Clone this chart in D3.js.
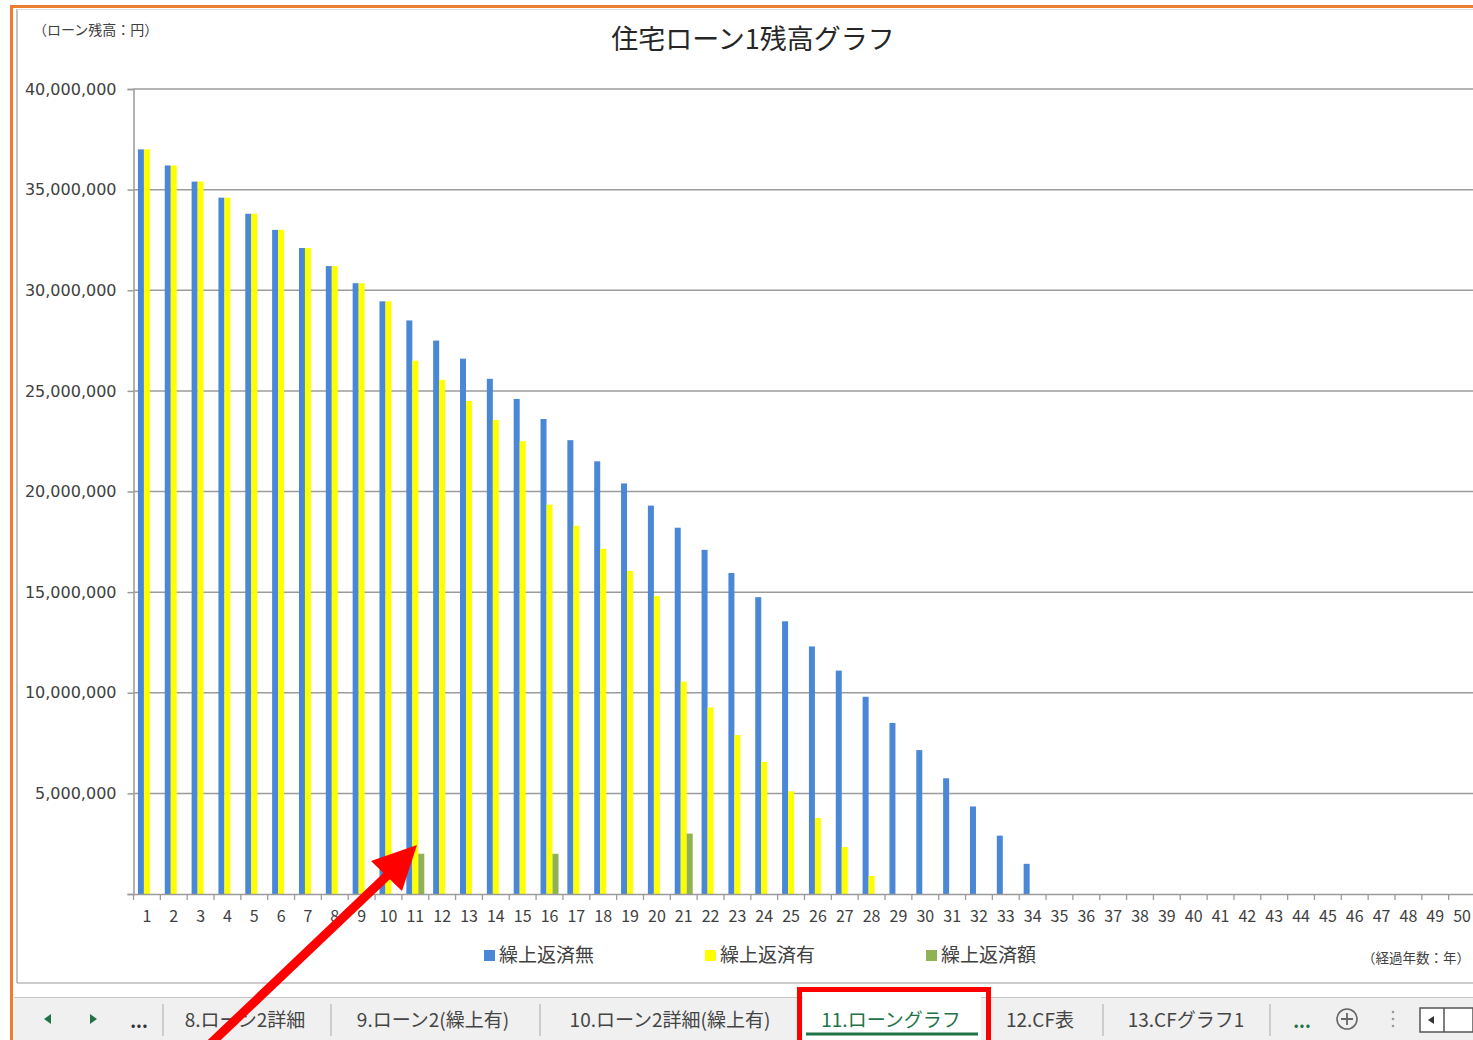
<!DOCTYPE html>
<html><head><meta charset="utf-8">
<script src="https://cdn.jsdelivr.net/npm/d3@7"></script>
<style>
html,body{margin:0;padding:0;background:#fff;}
svg{display:block;}
</style></head>
<body>
<svg id="c" width="1473" height="1040"></svg>
<script>
// ---- data ----
const years = d3.range(1, 51);
const seriesNames = ["繰上返済無", "繰上返済有", "繰上返済額"];
const noPrepay = [37.0,36.2,35.4,34.6,33.8,33.0,32.1,31.2,30.35,29.45,
  28.5,27.5,26.6,25.6,24.6,23.6,22.55,21.5,20.4,19.3,
  18.2,17.1,15.95,14.75,13.55,12.3,11.1,9.8,8.5,7.15,
  5.75,4.35,2.9,1.5].map(v => v * 1e6);
const withPrepay = [37.0,36.2,35.4,34.6,33.8,33.0,32.1,31.2,30.35,29.45,
  26.5,25.55,24.5,23.55,22.5,19.35,18.3,17.15,16.05,14.8,
  10.55,9.27,7.9,6.56,5.1,3.78,2.33,0.9].map(v => v * 1e6);
const prepayAmount = {11: 2.0e6, 16: 2.0e6, 21: 3.0e6};
const yTicks = [0, 5e6, 10e6, 15e6, 20e6, 25e6, 30e6, 35e6, 40e6];
const tabs = ["8.ローン2詳細", "9.ローン2(繰上有)", "10.ローン2詳細(繰上有)", "11.ローングラフ", "12.CF表", "13.CFグラフ1"];
const tabCenters = [245, 433, 670, 891, 1040, 1186];
const colors = ["#4a87d6", "#ffff00", "#8fb253"];

const svg = d3.select("#c");
const JP = "'Noto Sans CJK JP','Noto Sans',sans-serif";

// frame
svg.append("rect").attr("x",0).attr("y",0).attr("width",1473).attr("height",1040).attr("fill","#fff");
svg.append("line").attr("x1",17).attr("x2",17).attr("y1",9).attr("y2",983).attr("stroke","#9a9a9a").attr("stroke-width",1.2);
svg.append("line").attr("x1",17).attr("x2",1473).attr("y1",983).attr("y2",983).attr("stroke","#9a9a9a").attr("stroke-width",1.2);
svg.append("line").attr("x1",17).attr("x2",1473).attr("y1",9.5).attr("y2",9.5).attr("stroke","#dcdcdc").attr("stroke-width",1);

// plot
const plot = {left:133.5, right:1475.5, top:89, bottom:894};
const y = d3.scaleLinear().domain([0, 40e6]).range([plot.bottom, plot.top]);
const x0 = d3.scaleBand().domain(years).range([plot.left, plot.right]).paddingInner(0.33).paddingOuter(0.165);
const x1 = d3.scaleBand().domain([0,1,2]).range([0, x0.bandwidth()]);

// gridlines
svg.append("g").selectAll("line").data(yTicks.filter(d=>d>0)).join("line")
  .attr("x1", plot.left).attr("x2", plot.right)
  .attr("y1", d=>y(d)).attr("y2", d=>y(d))
  .attr("stroke","#9b9b9b").attr("stroke-width",1.5);

// bars
const rows = years.map(yr => ({
  yr,
  vals: [noPrepay[yr-1] || 0, withPrepay[yr-1] || 0, prepayAmount[yr] || 0]
}));
const g = svg.append("g");
rows.forEach(r => {
  r.vals.forEach((v, i) => {
    if (v <= 0) return;
    g.append("rect")
      .attr("x", x0(r.yr) + x1(i))
      .attr("y", y(v))
      .attr("width", x1.bandwidth())
      .attr("height", y(0) - y(v))
      .attr("fill", colors[i]);
  });
});

// y axis
const yAxis = d3.axisLeft(y).tickValues(yTicks).tickSize(6).tickPadding(11)
  .tickFormat(d => d === 0 ? "" : d3.format(",")(d));
const ya = svg.append("g").attr("transform", `translate(${plot.left},0)`).call(yAxis);
ya.select(".domain").attr("stroke","#9b9b9b").attr("stroke-width",1.5);
ya.selectAll(".tick line").attr("stroke","#9b9b9b").attr("stroke-width",1.5);
ya.selectAll(".tick text").attr("font-family","'DejaVu Sans',sans-serif").attr("font-size","16px").attr("fill","#404040");

// x axis
const xa = svg.append("g").attr("transform", `translate(0,${plot.bottom})`)
  .call(d3.axisBottom(x0).tickSize(0).tickPadding(17));
xa.select(".domain").attr("stroke","#9b9b9b").attr("stroke-width",1.5);
xa.selectAll(".tick text").attr("font-family",JP).attr("font-size","16px").attr("fill","#404040");
// boundary tick marks
const step = x0.step();
svg.append("g").selectAll("line").data(d3.range(0, 51)).join("line")
  .attr("x1", d => plot.left + d*step).attr("x2", d => plot.left + d*step)
  .attr("y1", plot.bottom).attr("y2", plot.bottom + 6)
  .attr("stroke","#9b9b9b").attr("stroke-width",1.3);

// title & labels
svg.append("text").attr("x",753).attr("y",49).attr("text-anchor","middle")
  .attr("font-family",JP).attr("font-size","27px").attr("fill","#262626").text("住宅ローン1残高グラフ");
svg.append("text").attr("x",33).attr("y",35)
  .attr("font-family",JP).attr("font-size","14px").attr("fill","#404040").text("（ローン残高：円）");
svg.append("text").attr("x",1470).attr("y",963).attr("text-anchor","end")
  .attr("font-family",JP).attr("font-size","13.5px").attr("fill","#404040").text("（経過年数：年）");

// legend
const legX = [484, 705, 926];
seriesNames.forEach((n, i) => {
  svg.append("rect").attr("x", legX[i]).attr("y", 950).attr("width", 11).attr("height", 11).attr("fill", colors[i]);
  svg.append("text").attr("x", legX[i] + 15).attr("y", 962)
    .attr("font-family",JP).attr("font-size","19px").attr("fill","#404040").text(n);
});

// sheet tab bar
svg.append("rect").attr("x",14).attr("y",997).attr("width",1459).attr("height",43).attr("fill","#f0f0f0");
svg.append("line").attr("x1",14).attr("x2",1473).attr("y1",997.5).attr("y2",997.5).attr("stroke","#c6c6c6");
[163, 331, 540, 1103, 1270].forEach(sx => {
  svg.append("line").attr("x1",sx).attr("x2",sx).attr("y1",1004).attr("y2",1036).attr("stroke","#b5b5b5").attr("stroke-width",1.2);
});
// active tab
svg.append("rect").attr("x",803).attr("y",997).attr("width",178).attr("height",43).attr("fill","#fff");
svg.append("line").attr("x1",806).attr("x2",978).attr("y1",1034).attr("y2",1034).attr("stroke","#217346").attr("stroke-width",3);
tabs.forEach((t, i) => {
  svg.append("text").attr("x", tabCenters[i]).attr("y", 1027).attr("text-anchor","middle")
    .attr("font-family",JP).attr("font-size","19px")
    .attr("fill", i === 3 ? "#217346" : "#444").text(t);
});
// nav arrows
svg.append("path").attr("d","M44,1019 L51,1014 L51,1024 Z").attr("fill","#217346");
svg.append("path").attr("d","M97,1019 L90,1014 L90,1024 Z").attr("fill","#217346");
svg.append("text").attr("x",139).attr("y",1028).attr("text-anchor","middle").attr("font-family",JP).attr("font-size","18px").attr("font-weight","bold").attr("fill","#333").text("...");
svg.append("text").attr("x",1302).attr("y",1028).attr("text-anchor","middle").attr("font-family",JP).attr("font-size","18px").attr("font-weight","bold").attr("fill","#217346").text("...");
svg.append("circle").attr("cx",1347).attr("cy",1019).attr("r",10).attr("fill","none").attr("stroke","#666").attr("stroke-width",1.6);
svg.append("path").attr("d","M1341,1019 H1353 M1347,1013 V1025").attr("stroke","#666").attr("stroke-width",1.8);
[1012,1019,1026].forEach(cy => svg.append("circle").attr("cx",1393).attr("cy",cy).attr("r",1.3).attr("fill","#999"));
svg.append("rect").attr("x",1420).attr("y",1008).attr("width",53).attr("height",24).attr("fill","#fff").attr("stroke","#555").attr("stroke-width",1.5);
svg.append("line").attr("x1",1444).attr("x2",1444).attr("y1",1008).attr("y2",1032).attr("stroke","#555").attr("stroke-width",1.5);
svg.append("path").attr("d","M1428,1020 L1434,1016 L1434,1024 Z").attr("fill","#333");

// red highlight rectangle
svg.append("rect").attr("x",799.5).attr("y",989.5).attr("width",189).attr("height",54).attr("fill","none").attr("stroke","#ff0000").attr("stroke-width",5);

// red arrow
svg.append("line").attr("x1",208).attr("y1",1046).attr("x2",392).attr("y2",871).attr("stroke","#ff0000").attr("stroke-width",9);
svg.append("path").attr("d","M417,845 L371,861 L402,891 Z").attr("fill","#ff0000");

// orange outer frame
svg.append("line").attr("x1",10).attr("x2",1473).attr("y1",6.5).attr("y2",6.5).attr("stroke","#ed7d31").attr("stroke-width",3);
svg.append("line").attr("x1",11.5).attr("x2",11.5).attr("y1",5).attr("y2",1040).attr("stroke","#ed7d31").attr("stroke-width",3);
</script>
</body></html>
